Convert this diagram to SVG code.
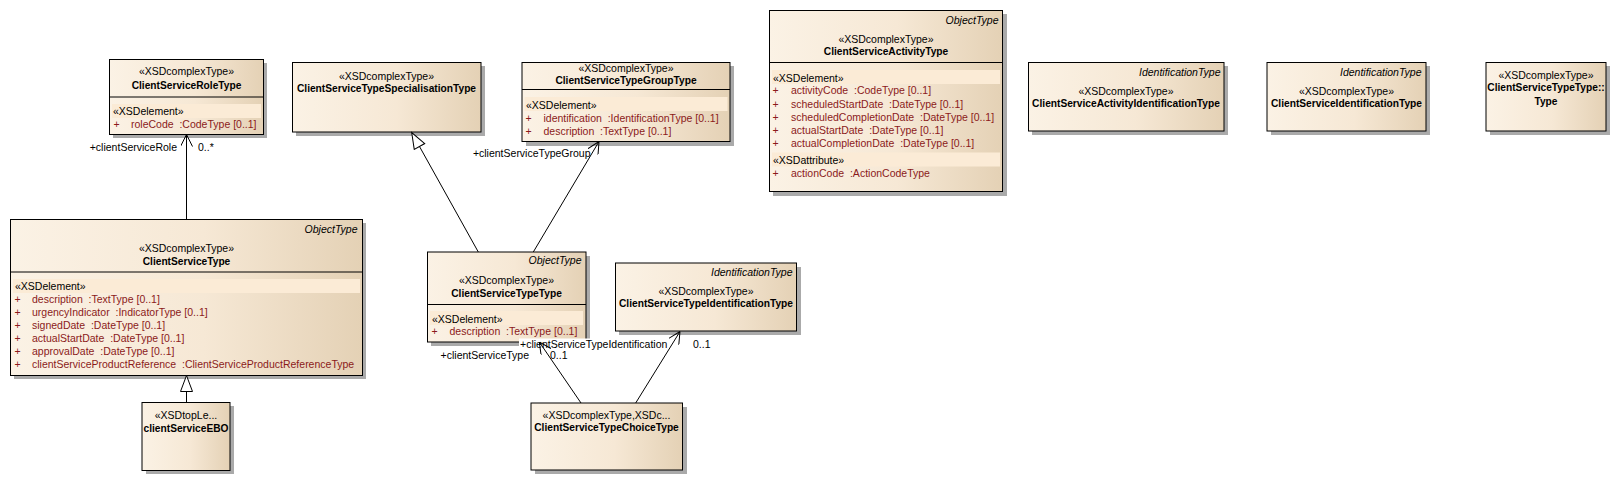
<svg xmlns="http://www.w3.org/2000/svg" width="1617" height="482" viewBox="0 0 1617 482">
<style>
text{font-family:"Liberation Sans",Arial,sans-serif;font-size:10.5px;fill:#000;white-space:pre}
.b{font-weight:bold;font-size:10.2px}
.i{font-style:italic;text-anchor:end}
.c{text-anchor:middle}
.a{fill:#8b1a1a}
.box{fill:url(#g);stroke:#000;stroke-width:1}
.sh{fill:#aaaaaa}
.band{fill:#fbebd6}
.div{stroke:#000;stroke-width:1}
.ln{fill:none;stroke:#000;stroke-width:1}
</style>
<defs>
<linearGradient id="g" x1="0" y1="0" x2="1" y2="0">
<stop offset="0" stop-color="#fbf2e5"/>
<stop offset="0.55" stop-color="#f6e8d5"/>
<stop offset="1" stop-color="#e4d1b5"/>
</linearGradient>
<marker id="open" viewBox="0 0 12 12" refX="12" refY="6" markerWidth="12" markerHeight="12" markerUnits="userSpaceOnUse" orient="auto">
<path d="M0,0 L12,6 L0,12" fill="none" stroke="#000" stroke-width="1"/>
</marker>
<marker id="tri" viewBox="0 0 18 14" refX="17" refY="7" markerWidth="18" markerHeight="14" markerUnits="userSpaceOnUse" orient="auto">
<path d="M1,1 L17,7 L1,13 Z" fill="#fff" stroke="#000" stroke-width="1"/>
</marker>
</defs>
<rect width="1617" height="482" fill="#fff"/>

<g id="ClientServiceRoleType">
<rect class="sh" x="113" y="63" width="154" height="75"/>
<rect class="box" x="109.5" y="59.5" width="154" height="75"/>
<line class="div" x1="109.5" y1="97" x2="263.5" y2="97"/>
<text class="c" x="186.5" y="75">«XSDcomplexType»</text>
<text class="c b" x="186.5" y="88.5">ClientServiceRoleType</text>
<rect class="band" x="112" y="104" width="149" height="14"/>
<text x="113" y="115">«XSDelement»</text>
<text class="a" x="113.5" y="128">+</text>
<text class="a" x="131" y="128">roleCode  :CodeType [0..1]</text>
</g>

<g id="ClientServiceType">
<rect class="sh" x="14" y="223" width="352" height="156"/>
<rect class="box" x="10.5" y="219.5" width="352" height="156"/>
<line class="div" x1="10.5" y1="272" x2="362.5" y2="272"/>
<text class="i" x="357.5" y="232.5">ObjectType</text>
<text class="c" x="186.5" y="252">«XSDcomplexType»</text>
<text class="c b" x="186.5" y="264.5">ClientServiceType</text>
<rect class="band" x="13" y="279" width="347" height="14"/>
<text x="15" y="290.3">«XSDelement»</text>
<text class="a" x="14.5" y="303">+</text><text class="a" x="32" y="303">description  :TextType [0..1]</text>
<text class="a" x="14.5" y="316">+</text><text class="a" x="32" y="316">urgencyIndicator  :IndicatorType [0..1]</text>
<text class="a" x="14.5" y="329">+</text><text class="a" x="32" y="329">signedDate  :DateType [0..1]</text>
<text class="a" x="14.5" y="342">+</text><text class="a" x="32" y="342">actualStartDate  :DateType [0..1]</text>
<text class="a" x="14.5" y="355">+</text><text class="a" x="32" y="355">approvalDate  :DateType [0..1]</text>
<text class="a" x="14.5" y="368">+</text><text class="a" x="32" y="368">clientServiceProductReference  :ClientServiceProductReferenceType</text>
</g>

<g id="clientServiceEBO">
<rect class="sh" x="146" y="406" width="88" height="68"/>
<rect class="box" x="142" y="402.5" width="88" height="68"/>
<text class="c" x="186" y="418.5">«XSDtopLe...</text>
<text class="c b" x="186" y="431.8">clientServiceEBO</text>
</g>

<g id="ClientServiceTypeSpecialisationType">
<rect class="sh" x="296" y="66" width="189" height="70"/>
<rect class="box" x="292.5" y="62.5" width="188.5" height="69.5"/>
<text class="c" x="386.5" y="79.5">«XSDcomplexType»</text>
<text class="c b" x="386.5" y="92">ClientServiceTypeSpecialisationType</text>
</g>

<g id="ClientServiceTypeGroupType">
<rect class="sh" x="526" y="66" width="208" height="80"/>
<rect class="box" x="522" y="62.5" width="208" height="79"/>
<line class="div" x1="522" y1="89.5" x2="730" y2="89.5"/>
<text class="c" x="626" y="71.5">«XSDcomplexType»</text>
<text class="c b" x="626" y="84">ClientServiceTypeGroupType</text>
<rect class="band" x="524.5" y="97" width="203" height="14"/>
<text x="526" y="109">«XSDelement»</text>
<text class="a" x="525.5" y="121.5">+</text><text class="a" x="543.5" y="121.5">identification  :IdentificationType [0..1]</text>
<text class="a" x="525.5" y="134.5">+</text><text class="a" x="543.5" y="134.5">description  :TextType [0..1]</text>
</g>

<g id="ClientServiceTypeType">
<rect class="sh" x="431" y="256" width="159" height="90"/>
<rect class="box" x="427.5" y="252" width="158.5" height="90"/>
<line class="div" x1="427.5" y1="304.5" x2="586" y2="304.5"/>
<text class="i" x="581.5" y="264.2">ObjectType</text>
<text class="c" x="506.5" y="283.5">«XSDcomplexType»</text>
<text class="c b" x="506.5" y="296.5">ClientServiceTypeType</text>
<rect class="band" x="430" y="311" width="153" height="14"/>
<text x="432" y="322.5">«XSDelement»</text>
<text class="a" x="431.5" y="334.5">+</text><text class="a" x="449.5" y="334.5">description  :TextType [0..1]</text>
</g>

<g id="ClientServiceTypeIdentificationType">
<rect class="sh" x="619" y="267" width="182" height="68"/>
<rect class="box" x="615.5" y="263" width="181" height="68"/>
<text class="i" x="792.5" y="275.5">IdentificationType</text>
<text class="c" x="706" y="294.5">«XSDcomplexType»</text>
<text class="c b" x="706" y="307">ClientServiceTypeIdentificationType</text>
</g>

<g id="ClientServiceTypeChoiceType">
<rect class="sh" x="535" y="407" width="152" height="67"/>
<rect class="box" x="531" y="403" width="151.5" height="67"/>
<text class="c" x="606.5" y="418.5">«XSDcomplexType,XSDc...</text>
<text class="c b" x="606.5" y="431">ClientServiceTypeChoiceType</text>
</g>

<g id="ClientServiceActivityType">
<rect class="sh" x="773" y="14" width="234" height="182"/>
<rect class="box" x="769.5" y="10.5" width="233" height="181"/>
<line class="div" x1="769.5" y1="62.5" x2="1002.5" y2="62.5"/>
<text class="i" x="998.5" y="23.5">ObjectType</text>
<text class="c" x="886" y="43">«XSDcomplexType»</text>
<text class="c b" x="886" y="55.3">ClientServiceActivityType</text>
<rect class="band" x="772" y="70" width="228" height="14"/>
<text x="773" y="82">«XSDelement»</text>
<text class="a" x="772.5" y="94.3">+</text><text class="a" x="791" y="94.3">activityCode  :CodeType [0..1]</text>
<text class="a" x="772.5" y="107.5">+</text><text class="a" x="791" y="107.5">scheduledStartDate  :DateType [0..1]</text>
<text class="a" x="772.5" y="120.5">+</text><text class="a" x="791" y="120.5">scheduledCompletionDate  :DateType [0..1]</text>
<text class="a" x="772.5" y="133.5">+</text><text class="a" x="791" y="133.5">actualStartDate  :DateType [0..1]</text>
<text class="a" x="772.5" y="147">+</text><text class="a" x="791" y="147">actualCompletionDate  :DateType [0..1]</text>
<rect class="band" x="772" y="152.5" width="228" height="14"/>
<text x="773" y="163.5">«XSDattribute»</text>
<text class="a" x="772.5" y="177">+</text><text class="a" x="791" y="177">actionCode  :ActionCodeType</text>
</g>

<g id="ClientServiceActivityIdentificationType">
<rect class="sh" x="1032" y="66" width="196" height="69"/>
<rect class="box" x="1028.5" y="62.5" width="195.5" height="68.5"/>
<text class="i" x="1220.5" y="75.5">IdentificationType</text>
<text class="c" x="1126" y="95">«XSDcomplexType»</text>
<text class="c b" x="1126" y="107">ClientServiceActivityIdentificationType</text>
</g>

<g id="ClientServiceIdentificationType">
<rect class="sh" x="1271" y="66" width="159" height="69"/>
<rect class="box" x="1267" y="62.5" width="159" height="68.5"/>
<text class="i" x="1421.5" y="75.5">IdentificationType</text>
<text class="c" x="1346.5" y="95">«XSDcomplexType»</text>
<text class="c b" x="1346.5" y="107">ClientServiceIdentificationType</text>
</g>

<g id="ClientServiceTypeType_Type">
<rect class="sh" x="1490" y="66" width="120" height="69"/>
<rect class="box" x="1486" y="62.5" width="120" height="68.5"/>
<text class="c" x="1546" y="78.5">«XSDcomplexType»</text>
<text class="c b" x="1546" y="91">ClientServiceTypeType::</text>
<text class="c b" x="1546" y="104.5">Type</text>
</g>

<g id="connectors">
<rect x="519" y="338.5" width="155" height="11" fill="#fff"/>
<path class="ln" d="M186.5,219 L186.5,134.5" marker-end="url(#open)"/>
<path class="ln" d="M186.5,402 L186.5,375.5" marker-end="url(#tri)"/>
<path class="ln" d="M478.3,252 L411.7,132.5" marker-end="url(#tri)"/>
<path class="ln" d="M533.3,252 L599,141.5" marker-end="url(#open)"/>
<path class="ln" d="M581,403 L539.3,342" marker-end="url(#open)"/>
<path class="ln" d="M635.7,403 L680,331.5" marker-end="url(#open)"/>
<text x="177" y="151.3" style="text-anchor:end">+clientServiceRole</text>
<text x="198" y="151.3">0..*</text>
<text x="590.5" y="157" style="text-anchor:end">+clientServiceTypeGroup</text>
<text x="529" y="358.5" style="text-anchor:end">+clientServiceType</text>
<text x="550" y="358.5">0..1</text>
<text x="520" y="347.8">+clientServiceTypeIdentification</text>
<text x="693" y="347.8">0..1</text>
</g>
</svg>
